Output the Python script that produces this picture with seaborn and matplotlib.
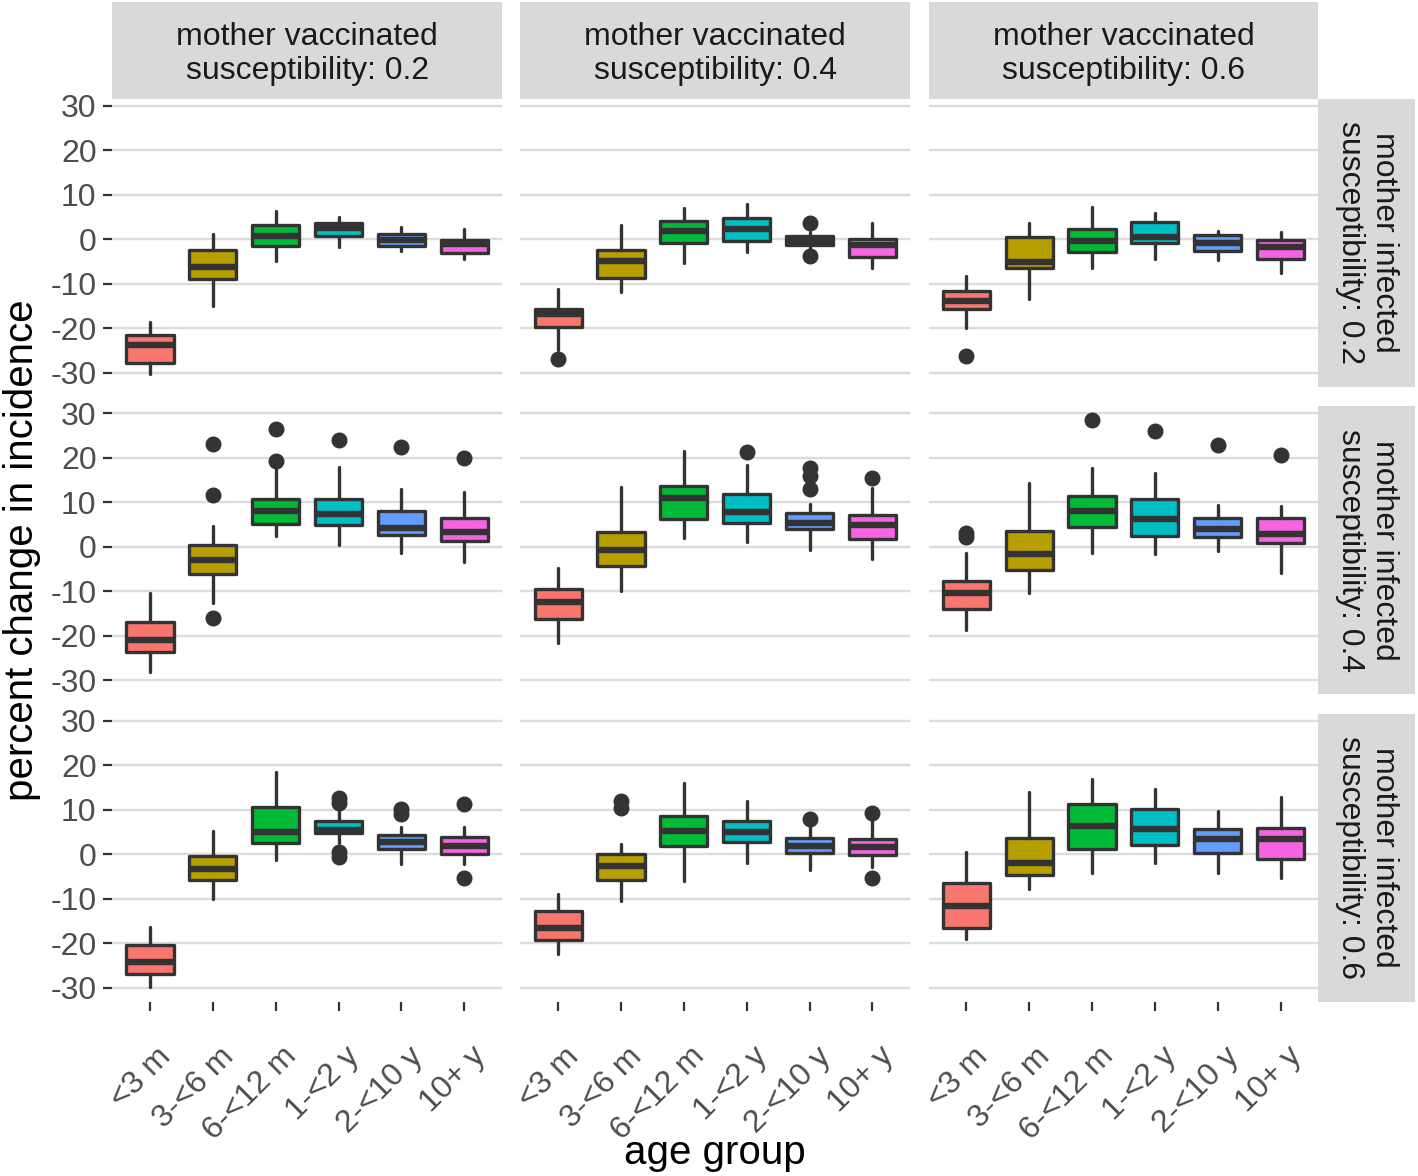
import numpy as np
import pandas as pd
import seaborn as sns
import matplotlib.pyplot as plt
import matplotlib.transforms as mtransforms
from matplotlib.patches import Rectangle

age_groups = ["<3 m", "3-<6 m", "6-<12 m", "1-<2 y", "2-<10 y", "10+ y"]
box_colors = ["#F8766D", "#B79F00", "#00BA38", "#00BFC4", "#619CFF", "#F564E3"]
infected_levels = [0.2, 0.4, 0.6]
vaccinated_levels = [0.2, 0.4, 0.6]

# one row per panel, ordered (infected, vaccinated):
# (0.2,0.2) (0.2,0.4) (0.2,0.6) (0.4,0.2) ... (0.6,0.6)
whisk_lo = [
    [-30.3, -15.0, -5.0, -1.7, -2.6, -4.4],
    [-24.9, -11.8, -5.4, -2.8, -2.0, -6.4],
    [-20.0, -13.4, -6.4, -4.4, -4.65, -7.5],
    [-28.1, -12.6, 2.4, 0.3, -1.35, -3.4],
    [-21.6, -9.9, 2.0, 1.05, -0.75, -2.8],
    [-18.6, -10.3, -1.5, -1.7, -0.9, -6.0],
    [-29.75, -10.0, -1.4, 2.6, -2.2, -2.2],
    [-22.5, -10.5, -6.0, -2.0, -3.5, -2.9],
    [-19.1, -7.8, -4.3, -2.0, -4.3, -5.25],
]
q1 = [
    [-27.9, -9.0, -1.6, 0.7, -1.5, -3.0],
    [-19.8, -8.8, -0.9, -0.3, -1.4, -3.9],
    [-15.7, -6.4, -2.9, -0.9, -2.6, -4.4],
    [-23.6, -6.1, 5.2, 4.9, 2.6, 1.35],
    [-16.2, -4.3, 6.2, 5.25, 3.9, 1.8],
    [-14.0, -5.2, 4.5, 2.4, 2.1, 0.75],
    [-26.9, -5.8, 2.6, 4.7, 1.1, 0.07],
    [-19.3, -5.8, 1.9, 2.7, 0.37, -0.1],
    [-16.5, -4.6, 1.1, 2.0, 0.2, -1.1],
]
median = [
    [-23.8, -6.3, 0.8, 2.5, -0.15, -1.1],
    [-16.8, -4.9, 1.9, 2.2, -0.35, -1.3],
    [-13.8, -5.1, -0.3, 0.6, -0.9, -1.7],
    [-20.9, -3.0, 7.95, 7.35, 4.3, 3.3],
    [-12.4, -0.7, 10.9, 7.7, 5.25, 4.9],
    [-10.3, -1.65, 8.0, 6.2, 3.9, 2.85],
    [-24.2, -3.4, 5.0, 5.45, 2.75, 1.85],
    [-16.6, -2.6, 5.2, 5.0, 1.95, 1.7],
    [-11.7, -1.9, 6.35, 5.75, 3.5, 3.5],
]
q3 = [
    [-21.5, -2.4, 3.3, 3.7, 1.2, -0.2],
    [-15.6, -2.4, 4.1, 4.7, 0.7, 0.1],
    [-11.6, 0.4, 2.2, 3.8, 0.9, -0.2],
    [-16.9, 0.4, 10.65, 10.65, 8.0, 6.5],
    [-9.4, 3.4, 13.6, 11.8, 7.5, 7.2],
    [-7.7, 3.5, 11.4, 10.65, 6.5, 6.4],
    [-20.45, -0.4, 10.7, 7.55, 4.4, 3.95],
    [-12.75, 0.07, 8.6, 7.55, 3.6, 3.4],
    [-6.4, 3.6, 11.2, 10.1, 5.7, 5.8],
]
whisk_hi = [
    [-18.7, 1.2, 6.4, 4.9, 2.8, 2.4],
    [-11.2, 3.2, 7.1, 7.9, 1.7, 3.6],
    [-8.2, 3.6, 7.2, 5.8, 1.9, 1.6],
    [-10.3, 4.65, 18.0, 18.0, 13.0, 12.3],
    [-4.7, 13.5, 21.6, 18.4, 9.5, 13.3],
    [-1.5, 14.4, 17.75, 16.5, 9.4, 9.15],
    [-16.4, 5.3, 18.4, 9.8, 6.2, 6.05],
    [-9.0, 2.25, 16.1, 12.05, 6.2, 7.7],
    [0.45, 14.1, 16.9, 14.6, 9.7, 12.9],
]
outliers = [
    [[], [], [], [], [], []],
    [[-26.9], [], [], [], [3.6, -3.75], []],
    [[-26.2], [], [], [], [], []],
    [[], [23.2, 11.7, -16.0], [26.4, 19.3], [24.1], [22.5], [20.0]],
    [[], [], [], [21.35], [17.6, 15.9, 12.9], [15.4]],
    [[3.2, 2.1], [], [28.6], [26.1], [22.9], [20.6]],
    [[], [], [], [12.6, 11.6, 0.45, -0.55], [10.2, 9.0], [11.3, -5.25]],
    [[], [12.05, 10.5], [], [], [7.9], [9.2, -5.4]],
    [[], [], [], [], [], []],
]

rows = []
for i, inf in enumerate(infected_levels):
    for j, vac in enumerate(vaccinated_levels):
        k = i * 3 + j
        for a, age in enumerate(age_groups):
            rows.append(dict(infected=inf, vaccinated=vac, age=age, pos=a + 1,
                             whislo=whisk_lo[k][a], q1=q1[k][a], med=median[k][a],
                             q3=q3[k][a], whishi=whisk_hi[k][a], fliers=outliers[k][a]))
df = pd.DataFrame(rows)

sns.set_theme(style="white")
plt.rcParams["font.family"] = ["Liberation Sans", "DejaVu Sans"]
plt.rcParams["axes.unicode_minus"] = False

edge = "#333333"


def draw_boxes(data, **kws):
    ax = plt.gca()
    stats = [dict(whislo=r.whislo, q1=r.q1, med=r.med, q3=r.q3, whishi=r.whishi,
                  fliers=np.array(r.fliers)) for r in data.itertuples()]
    bp = ax.bxp(stats, positions=data["pos"].tolist(), widths=0.75, patch_artist=True,
                showcaps=False,
                boxprops=dict(edgecolor=edge, linewidth=2.4, joinstyle="round"),
                whiskerprops=dict(color=edge, linewidth=2.4),
                medianprops=dict(color=edge, linewidth=4.6, solid_capstyle="butt"),
                flierprops=dict(marker="o", markersize=10.5, markerfacecolor=edge,
                                markeredgecolor=edge, linestyle="none"))
    for patch, c in zip(bp["boxes"], box_colors):
        patch.set_facecolor(c)


g = sns.FacetGrid(df, row="infected", col="vaccinated", sharex=True, sharey=True,
                  height=3.9, aspect=1.3, despine=False)
g.map_dataframe(draw_boxes)

fig = g.figure
fig.set_size_inches(14.18, 11.76)
fig.subplots_adjust(left=0.0792, right=0.9297, top=0.9161, bottom=0.148,
                    wspace=0.0475, hspace=0.0666)

strip_bg = "#d9d9d9"
shift_right = mtransforms.ScaledTranslation(6 / 100, 0, fig.dpi_scale_trans)
shift_down = mtransforms.ScaledTranslation(0, -4 / 100, fig.dpi_scale_trans)
nrow, ncol = g.axes.shape
for i in range(nrow):
    for j in range(ncol):
        ax = g.axes[i, j]
        ax.set_title("")
        ax.set_xlabel("")
        ax.set_ylabel("")
        ax.set_xlim(0.4, 6.6)
        ax.set_ylim(-33.2, 31.6)
        ax.set_yticks([-30, -20, -10, 0, 10, 20, 30])
        ax.set_xticks(range(1, 7))
        for s in ax.spines.values():
            s.set_visible(False)
        ax.set_axisbelow(True)
        ax.yaxis.grid(True, color="#dcdcdc", linewidth=1.7)
        ax.xaxis.grid(False)
        ax.tick_params(axis="y", left=(j == 0), length=6.3, width=1.6, color=edge,
                       labelleft=(j == 0), labelsize=23, labelcolor="#4d4d4d", pad=5)
        ax.tick_params(axis="x", bottom=(i == nrow - 1), length=6.3, width=1.6, color=edge,
                       labelbottom=(i == nrow - 1), labelsize=23, labelcolor="#4d4d4d", pad=22)
        if i == nrow - 1:
            ax.set_xticklabels(age_groups)
            for lab in ax.get_xticklabels():
                lab.set_rotation(45)
                lab.set_ha("right")
                lab.set_va("top")
                lab.set_rotation_mode("anchor")
                lab.set_transform(lab.get_transform() + shift_right)
        if i == 0:
            sh = 97 / 288.3
            ax.add_patch(Rectangle((0, 1), 1, sh, transform=ax.transAxes, clip_on=False,
                                   facecolor=strip_bg, edgecolor="none"))
            ax.text(0.5, 1 + sh / 2, f"mother vaccinated\nsusceptibility: {vaccinated_levels[j]}",
                    transform=ax.transAxes + shift_down, ha="center", va="center", fontsize=23,
                    color="#1a1a1a", linespacing=1.15)
        if j == ncol - 1:
            sw = 97 / 389.7
            ax.add_patch(Rectangle((1, 0), sw, 1, transform=ax.transAxes, clip_on=False,
                                   facecolor=strip_bg, edgecolor="none"))
            ax.text(1 + sw / 2, 0.5, f"mother infected\nsusceptibility: {infected_levels[i]}",
                    transform=ax.transAxes, ha="center", va="center", fontsize=23,
                    color="#1a1a1a", rotation=-90, linespacing=1.15)

fig.text(22 / 1418, 1 - 550 / 1176, "percent change in incidence", rotation=90,
         ha="center", va="center", fontsize=29, color="black")
fig.text(715 / 1418, 1 - 1153 / 1176, "age group", ha="center", va="center",
         fontsize=29, color="black")

fig.savefig("out.png", dpi=100)
